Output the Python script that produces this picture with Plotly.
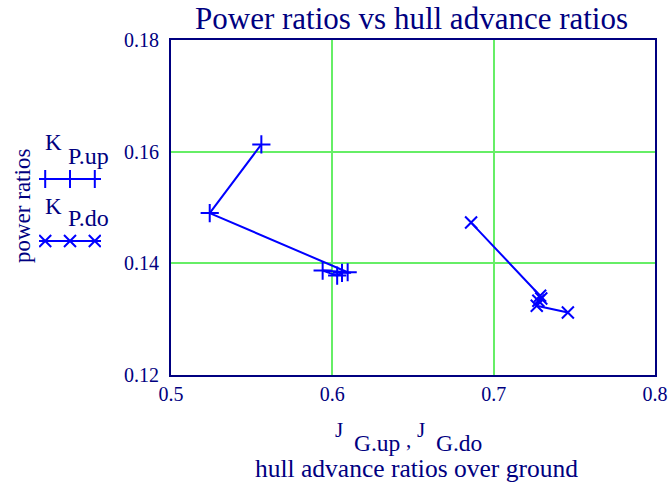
import plotly.graph_objects as go

# ---- data ----
J_G_up = [0.556, 0.524, 0.6095, 0.594, 0.603, 0.606]
K_P_up = [0.1613, 0.149, 0.1384, 0.1387, 0.1378, 0.1383]
J_G_do = [0.686, 0.7288, 0.7277, 0.7295, 0.7267, 0.746]
K_P_do = [0.1473, 0.1342, 0.1333, 0.1337, 0.1324, 0.1312]

x_ticks = [0.5, 0.6, 0.7, 0.8]
y_ticks = [0.12, 0.14, 0.16, 0.18]
legend_pos = [0.1, 0.5, 0.9]

W, H = 671, 487
NAVY = "#000080"
BLUE = "#0000FF"
GREEN = "#66EE66"
FONT = "Liberation Serif, Times New Roman, serif"

# plot-area pixel box
L, R, T, B = 171, 655, 40, 375


def px(x):
    return x / W


def py(y):
    return (H - y) / H


fig = go.Figure()

fig.add_trace(go.Scatter(
    x=J_G_up, y=K_P_up, mode="lines+markers",
    line=dict(color=BLUE, width=2),
    marker=dict(symbol="cross-thin", size=13, line=dict(color=BLUE, width=2)),
    showlegend=False, xaxis="x", yaxis="y"))
fig.add_trace(go.Scatter(
    x=J_G_do, y=K_P_do, mode="lines+markers",
    line=dict(color=BLUE, width=2),
    marker=dict(symbol="x-thin", size=12, line=dict(color=BLUE, width=2)),
    showlegend=False, xaxis="x", yaxis="y"))

# legend samples on a helper axis in the left margin
for row, sym, sz in [(1, "cross-thin", 13), (0, "x-thin", 12)]:
    fig.add_trace(go.Scatter(
        x=[0, 1], y=[row, row], mode="lines",
        line=dict(color=BLUE, width=2), showlegend=False,
        xaxis="x2", yaxis="y2", hoverinfo="skip"))
    fig.add_trace(go.Scatter(
        x=legend_pos, y=[row] * len(legend_pos), mode="markers",
        marker=dict(symbol=sym, size=sz, line=dict(color=BLUE, width=2)),
        showlegend=False, xaxis="x2", yaxis="y2", hoverinfo="skip"))

axis_common = dict(
    showline=True, mirror=True, linecolor=NAVY, linewidth=2,
    showgrid=True, gridcolor=GREEN, gridwidth=1.5,
    zeroline=False, automargin=False,
    tickfont=dict(family=FONT, size=20, color=NAVY),
)

fig.update_layout(
    width=W, height=H,
    margin=dict(l=0, r=0, t=0, b=0, pad=0, autoexpand=False),
    paper_bgcolor="white", plot_bgcolor="white",
    xaxis=dict(domain=[px(L), px(R)], range=[0.5, 0.8],
               tickvals=x_ticks, ticktext=[f"{v:.1f}" for v in x_ticks],
               ticks="", anchor="y", **axis_common),
    yaxis=dict(domain=[py(B), py(T)], range=[0.12, 0.18],
               tickvals=y_ticks, ticktext=[f"{v:.2f}" for v in y_ticks],
               ticks="outside", ticklen=6, tickcolor="rgba(0,0,0,0)",
               anchor="x", **axis_common),
    xaxis2=dict(domain=[px(39), px(101)], range=[0, 1], visible=False,
                anchor="y2", automargin=False),
    yaxis2=dict(domain=[py(272), py(148)], range=[-0.5, 1.5], visible=False,
                anchor="x2", automargin=False),
    showlegend=False,
)

ann = []


def text(s, x, y, size, xanchor="center", angle=0):
    ann.append(dict(text=s, x=px(x), y=py(y), xref="paper", yref="paper",
                    xanchor=xanchor, yanchor="middle", showarrow=False,
                    textangle=angle, borderpad=0,
                    font=dict(family=FONT, size=size, color=NAVY)))


text("Power ratios vs hull advance ratios", 411, 19, 31)
text("power ratios", 22, 206, 23, angle=-90)
text("K", 53, 143, 23)
text("P.up", 67, 156, 24, xanchor="left")
text("K", 53, 206, 23)
text("P.do", 67, 218, 24, xanchor="left")
text("J", 339, 430, 21)
text("G.up", 353, 443, 23.5, xanchor="left")
text(",", 409, 440, 21)
text("J", 421, 430, 21)
text("G.do", 435, 443, 23.5, xanchor="left")
text("hull advance ratios over ground", 416, 468, 25.5)

fig.update_layout(annotations=ann)
fig.write_html(
    "out.html",
    config={"displayModeBar": False},
    post_script="document.body.style.margin='0';"
                "document.body.style.overflow='hidden';",
)
